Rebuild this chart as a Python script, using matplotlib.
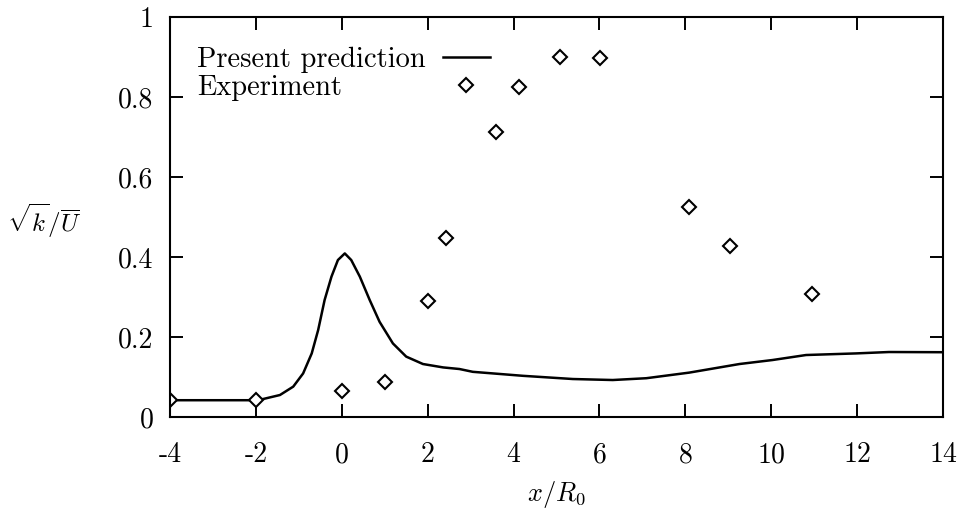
import matplotlib
matplotlib.use("Agg")
import matplotlib.pyplot as plt
from matplotlib.lines import Line2D

# prediction curve
curve_x = [-4, -3, -2, -1.91, -1.44, -1.13, -0.9, -0.7, -0.55, -0.4, -0.24, -0.09,
           0.07, 0.22, 0.42, 0.65, 0.88, 1.19, 1.5, 1.89, 2.36, 2.74, 3.05, 4.22,
           5.38, 6.31, 7.09, 8.09, 9.26, 10.03, 10.81, 11.97, 12.74, 14]
curve_y = [0.042, 0.042, 0.042, 0.043, 0.055, 0.076, 0.109, 0.159, 0.2175, 0.2925,
           0.351, 0.3925, 0.409, 0.3925, 0.351, 0.2925, 0.238, 0.184, 0.151, 0.1325,
           0.124, 0.12, 0.113, 0.103, 0.095, 0.0925, 0.097, 0.111, 0.1325, 0.1425,
           0.155, 0.159, 0.1625, 0.162]

# experiment points
exp_x = [-4, -2, 0, 1, 2, 2.43, 3.6, 4.13, 5.07, 6.02, 8.08, 9.05, 10.96]
exp_y = [0.043, 0.043, 0.066, 0.088, 0.29, 0.447, 0.713, 0.824, 0.90, 0.897, 0.526, 0.428, 0.307]

xticks = [-4, -2, 0, 2, 4, 6, 8, 10, 12, 14]
xticklabels = ['-4', '-2', '0', '2', '4', '6', '8', '10', '12', '14']
yticks = [0, 0.2, 0.4, 0.6, 0.8, 1]
yticklabels = ['0', '0.2', '0.4', '0.6', '0.8', '1']

plt.rcParams['font.family'] = 'cmr10'
plt.rcParams['mathtext.fontset'] = 'cm'
plt.rcParams['axes.formatter.use_mathtext'] = True
fs = 20

fig = plt.figure(figsize=(9.61, 5.13), dpi=100)
ax = fig.add_axes([0.1769, 0.1871, 0.8044, 0.7797])

line, = ax.plot(curve_x, curve_y, color='black', lw=1.8)
ax.plot(exp_x, exp_y, linestyle='none', marker='D', markersize=7,
        markerfacecolor='white', markeredgecolor='black', markeredgewidth=1.5)

ax.set_xlim(-4, 14)
ax.set_ylim(0, 1)
ax.set_xticks(xticks)
ax.set_xticklabels(xticklabels, fontsize=fs)
ax.set_yticks(yticks)
ax.set_yticklabels(yticklabels, fontsize=fs)
ax.tick_params(direction='in', length=9.5, width=1.4, top=True, right=True)
ax.tick_params(axis='x', pad=18)
ax.tick_params(axis='y', pad=12)
for s in ax.spines.values():
    s.set_linewidth(1.5)

ax.set_xlabel('$x/R_0$', fontsize=19, labelpad=8)
ax.set_ylabel(r'$\sqrt{k}/\overline{U}$', fontsize=18, rotation=0,
              ha='center', va='center')
ax.yaxis.set_label_coords(-0.163, 0.49)

# gnuplot style key: text left, sample right
pt = Line2D([], [], linestyle='none', marker='D', markersize=7,
            markerfacecolor='white', markeredgecolor='black', markeredgewidth=1.5)
leg = ax.legend([line, pt], ['Present prediction', 'Experiment'], markerfirst=False,
                frameon=False, loc='upper left', bbox_to_anchor=(0.035, 0.925),
                fontsize=20.5, handlelength=1.65, handletextpad=0.6,
                labelspacing=0.05, borderpad=0, borderaxespad=0)
fig.canvas.draw()
rows = leg._legend_handle_box.get_children()[0].get_children()
r = fig.canvas.get_renderer()
w = max(row.get_bbox(r).width for row in rows)
for row in rows:
    row.mode = 'expand'
    row.width = w

fig.savefig('out.png', dpi=100)
